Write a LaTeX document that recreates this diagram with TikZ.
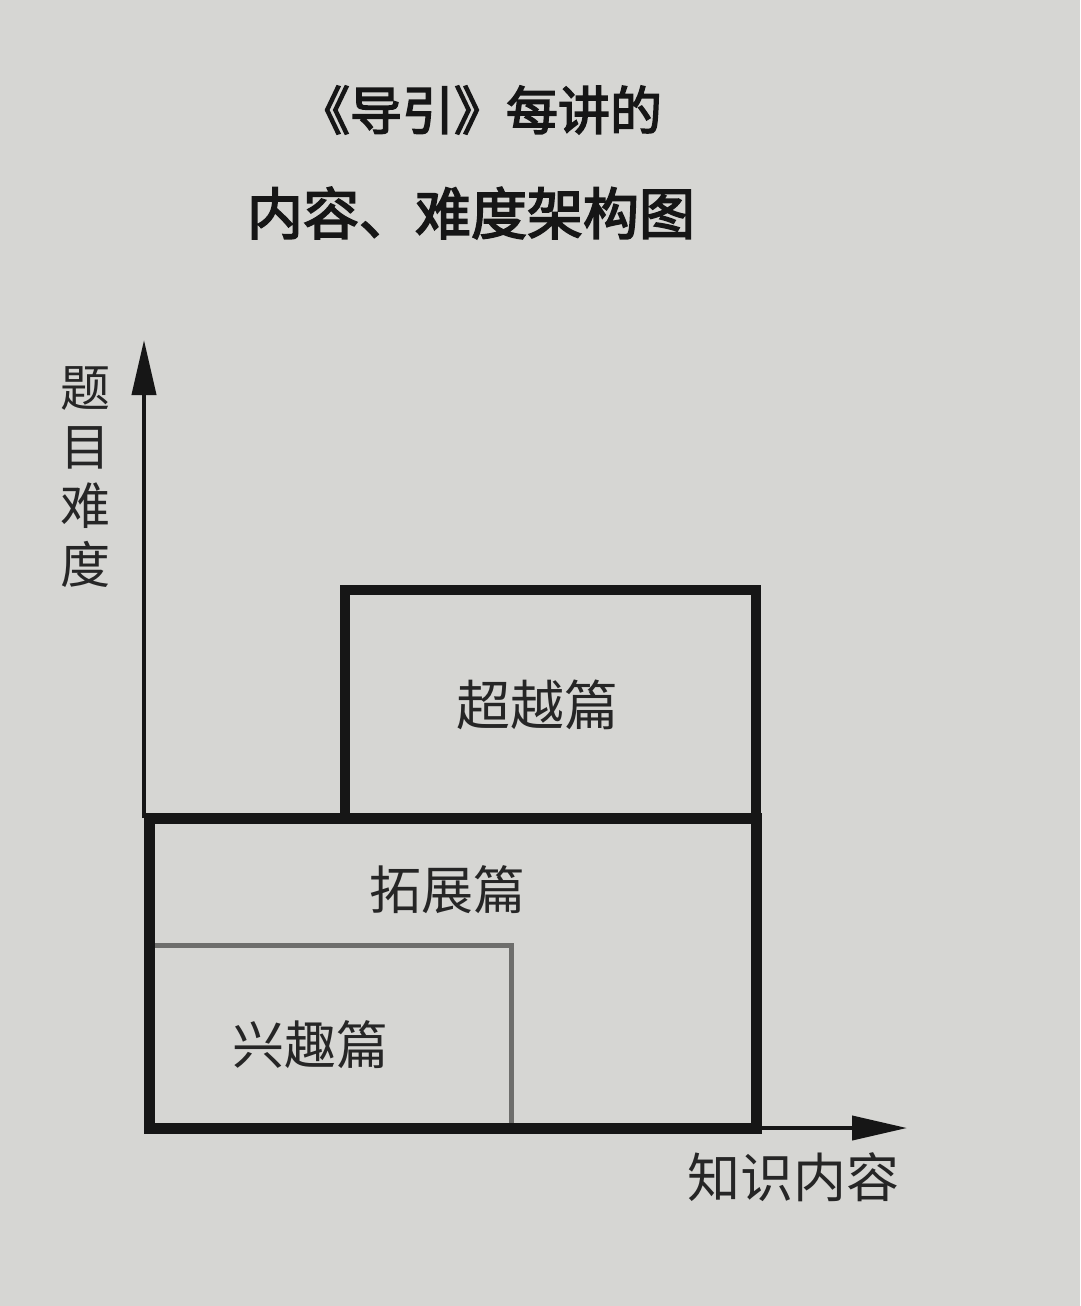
\documentclass[tikz,border=0pt]{standalone}
\usepackage{fontspec}
\newfontfamily\cjk{Noto Sans CJK SC}
\newfontfamily\cjkm[FakeBold=3]{Noto Sans CJK SC}
\usetikzlibrary{arrows.meta}
\definecolor{paper}{HTML}{D6D6D3}
\definecolor{ink}{HTML}{161616}
\definecolor{txt}{HTML}{262626}
\definecolor{greyline}{HTML}{6E6E6C}
\tikzset{
  thickbox/.style={draw=ink, line width=11pt, inner sep=0pt, outer sep=0pt},
  thinbox/.style={draw=greyline, line width=5pt, inner sep=0pt, outer sep=0pt},
  axisline/.style={draw=ink, line width=4pt, -{Triangle[length=55pt,width=24pt]}},
  lbl/.style={text=txt, font=\cjk\fontsize{52}{52}\selectfont, inner sep=0pt},
  ttl/.style={text=ink, inner sep=0pt},
}
\begin{document}
\begin{tikzpicture}[x=1pt,y=-1pt]
\fill[paper] (0,0) rectangle (1080,1306);
\useasboundingbox (0,0) rectangle (1080,1306);
% title
\node[ttl, font=\cjkm\fontsize{52}{52}\selectfont] (t1) at (480,110) {《导引》每讲的};
\node[ttl, font=\cjkm\fontsize{56}{56}\selectfont] (t2) at (471,213) {内容、难度架构图};
% boxes
\node[thinbox, minimum width=362pt, minimum height=183pt] (xq) at (330,1036.5) {};
\node[thickbox, minimum width=607pt, minimum height=310pt] (tz) at (452.5,973) {};
\node[thickbox, line width=10pt, minimum width=411pt, minimum height=228pt] (cy) at (550.5,704) {};
% labels
\node[lbl, font=\cjk\fontsize{54}{54}\selectfont] (lcy) at (537,705) {超越篇};
\node[lbl] (ltz) at (447,890) {拓展篇};
\node[lbl] (lxq) at (310,1045) {兴趣篇};
% axes
\coordinate (ytip) at (144,340);
\coordinate (xtip) at (907,1128);
\draw[axisline] ([xshift=-5pt]tz.north west) -- (ytip);
\draw[axisline] (tz.south east) -- (xtip);
% axis labels
\node[lbl, align=center, font=\cjk\fontsize{50}{59}\selectfont] (yl) at (85,477) {题\\目\\难\\度};
\node[lbl, font=\cjk\fontsize{53}{53}\selectfont] (xl) at (793,1177) {知识内容};
\end{tikzpicture}
\end{document}
